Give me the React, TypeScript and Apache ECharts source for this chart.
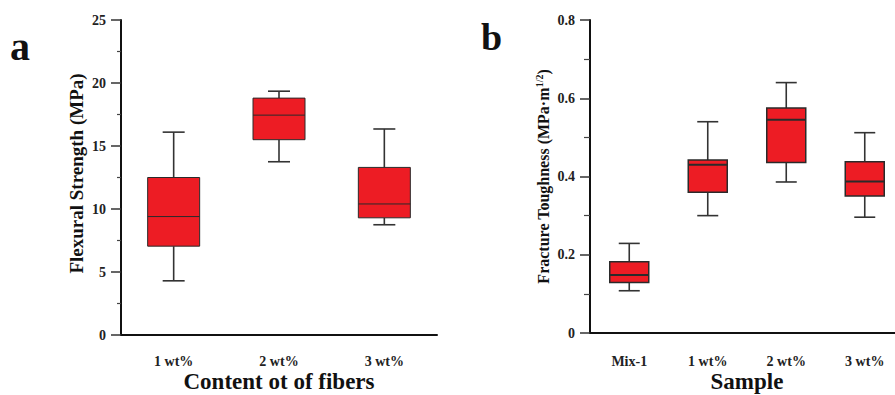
import React, { useEffect, useRef } from "react";
import * as echarts from "echarts";

// ---- Data: panel a (flexural strength, MPa) ----
const catsA = ["1 wt%", "2 wt%", "3 wt%"];
const minA = [4.3, 13.75, 8.75];
const q1A = [7.05, 15.5, 9.3];
const medA = [9.4, 17.45, 10.4];
const q3A = [12.5, 18.8, 13.3];
const maxA = [16.1, 19.35, 16.35];
const yTicksA = { min: 0, max: 25, interval: 5 };

// ---- Data: panel b (fracture toughness, MPa·m^1/2) ----
const catsB = ["Mix-1", "1 wt%", "2 wt%", "3 wt%"];
const minB = [0.108, 0.3, 0.386, 0.296];
const q1B = [0.129, 0.36, 0.436, 0.35];
const medB = [0.148, 0.43, 0.545, 0.387];
const q3B = [0.182, 0.442, 0.575, 0.438];
const maxB = [0.229, 0.54, 0.64, 0.512];
const yTicksB = { min: 0, max: 0.8, interval: 0.2 };

const FONT = "'Liberation Serif', 'Times New Roman', serif";

function makeRender(boxW: number, capW: number, medW: number, boxStroke: number) {
  return (params: any, api: any) => {
    const c = api.value(0);
    const pMin = api.coord([c, api.value(1)]);
    const pQ1 = api.coord([c, api.value(2)]);
    const pMed = api.coord([c, api.value(3)]);
    const pQ3 = api.coord([c, api.value(4)]);
    const pMax = api.coord([c, api.value(5)]);
    const x = pMed[0];
    const lineStyle = { stroke: "#333", lineWidth: 1.6 };
    return {
      type: "group",
      children: [
        { type: "line", shape: { x1: x, y1: pMax[1], x2: x, y2: pQ3[1] }, style: lineStyle },
        { type: "line", shape: { x1: x, y1: pQ1[1], x2: x, y2: pMin[1] }, style: lineStyle },
        { type: "line", shape: { x1: x - capW / 2, y1: pMax[1], x2: x + capW / 2, y2: pMax[1] }, style: lineStyle },
        { type: "line", shape: { x1: x - capW / 2, y1: pMin[1], x2: x + capW / 2, y2: pMin[1] }, style: lineStyle },
        {
          type: "rect",
          shape: { x: x - boxW / 2, y: pQ3[1], width: boxW, height: pQ1[1] - pQ3[1] },
          style: { fill: "#ed1c24", stroke: "#2a2a2a", lineWidth: boxStroke },
        },
        {
          type: "line",
          shape: { x1: x - boxW / 2, y1: pMed[1], x2: x + boxW / 2, y2: pMed[1] },
          style: { stroke: "#2a2a2a", lineWidth: medW },
        },
      ],
    };
  };
}

function boxData(mins: number[], q1: number[], med: number[], q3: number[], max: number[]) {
  return mins.map((m, i) => [i, m, q1[i], med[i], q3[i], max[i]]);
}

export default function App() {
  const ref = useRef<HTMLDivElement>(null);
  useEffect(() => {
    if (!ref.current) return;
    const chart = echarts.init(ref.current, null, { renderer: "svg" });
    const axisLabel = { color: "#222", fontFamily: FONT, fontWeight: "bold", fontSize: 14 };
    const option: any = {
      animation: false,
      backgroundColor: "#ffffff",
      grid: [
        { left: 121, top: 20, width: 316, height: 315, outerBoundsMode: "none", containLabel: false },
        { left: 590, top: 20, width: 314, height: 313, outerBoundsMode: "none", containLabel: false },
      ],
      xAxis: [
        {
          type: "category",
          gridIndex: 0,
          data: catsA,
          axisLine: { lineStyle: { color: "#111", width: 2 } },
          axisTick: { alignWithLabel: true, length: 10, lineStyle: { color: "#aaa", width: 1.5 } },
          axisLabel: { ...axisLabel, margin: 19 },
          name: "Content ot of fibers",
          nameLocation: "middle",
          nameGap: 34,
          nameMoveOverlap: false,
          nameTextStyle: { color: "#111", fontFamily: FONT, fontWeight: "bold", fontSize: 23, lineHeight: 24 },
        },
        {
          type: "category",
          gridIndex: 1,
          data: catsB,
          axisLine: { lineStyle: { color: "#111", width: 2 } },
          axisTick: { alignWithLabel: true, length: 10, lineStyle: { color: "#555", width: 1.5 } },
          axisLabel: { ...axisLabel, margin: 21 },
          name: "Sample",
          nameLocation: "middle",
          nameGap: 36,
          nameMoveOverlap: false,
          nameTextStyle: { color: "#111", fontFamily: FONT, fontWeight: "bold", fontSize: 23, lineHeight: 24 },
        },
      ],
      yAxis: [
        {
          type: "value",
          gridIndex: 0,
          ...yTicksA,
          splitLine: { show: false },
          axisLine: { show: true, lineStyle: { color: "#111", width: 2 } },
          axisTick: { show: true, length: 10, lineStyle: { color: "#333", width: 1.5 } },
          minorTick: { show: true, splitNumber: 2, length: 4, lineStyle: { color: "#444", width: 1.2 } },
          axisLabel: { ...axisLabel, margin: 15 },
          name: "Flexural Strength (MPa)",
          nameLocation: "middle",
          nameGap: 35,
          nameMoveOverlap: false,
          nameTextStyle: { color: "#111", fontFamily: FONT, fontWeight: "bold", fontSize: 19, padding: [0, 0, 0, 8] },
        },
        {
          type: "value",
          gridIndex: 1,
          ...yTicksB,
          splitLine: { show: false },
          axisLine: { show: true, lineStyle: { color: "#111", width: 2 } },
          axisTick: { show: true, length: 10, lineStyle: { color: "#333", width: 1.5 } },
          minorTick: { show: true, splitNumber: 2, length: 6, lineStyle: { color: "#444", width: 1.2 } },
          axisLabel: { ...axisLabel, margin: 15 },
          name: "{t|Fracture Toughness (MPa·m}{s|1/2}{t|)}",
          nameLocation: "middle",
          nameGap: 38,
          nameMoveOverlap: false,
          nameTextStyle: {
            color: "#111",
            fontFamily: FONT,
            fontWeight: "bold",
            fontSize: 16,
            rich: {
              t: { fontFamily: FONT, fontWeight: "bold", fontSize: 16, color: "#111" },
              s: { fontFamily: FONT, fontWeight: "bold", fontSize: 10, color: "#111", verticalAlign: "top", padding: [0, 0, 8, 0] },
            },
          },
        },
      ],
      graphic: [
        {
          type: "text",
          left: 10,
          top: 26,
          style: { text: "a", fontFamily: FONT, fontWeight: "bold", fontSize: 40, fill: "#111" },
        },
        {
          type: "text",
          left: 481,
          top: 18,
          style: { text: "b", fontFamily: FONT, fontWeight: "bold", fontSize: 38, fill: "#111" },
        },
      ],
      series: [
        {
          type: "custom",
          xAxisIndex: 0,
          yAxisIndex: 0,
          renderItem: makeRender(52, 22, 1, 1),
          encode: { x: 0, y: [1, 2, 3, 4, 5] },
          data: boxData(minA, q1A, medA, q3A, maxA),
        },
        {
          type: "custom",
          xAxisIndex: 1,
          yAxisIndex: 1,
          renderItem: makeRender(39, 21, 2, 1.5),
          encode: { x: 0, y: [1, 2, 3, 4, 5] },
          data: boxData(minB, q1B, medB, q3B, maxB),
        },
      ],
    };
    chart.setOption(option);
    return () => chart.dispose();
  }, []);
  return (
    <div
      ref={ref}
      style={{ position: "fixed", left: 0, top: 0, width: 895, height: 395, background: "#fff" }}
    />
  );
}
